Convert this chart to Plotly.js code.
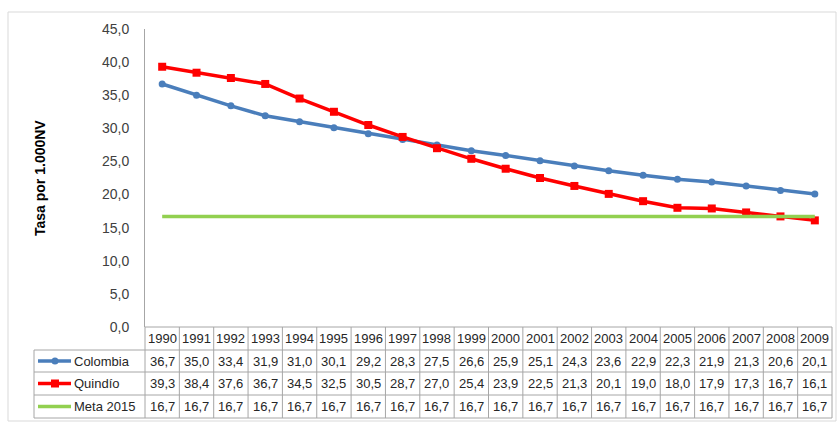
<!DOCTYPE html>
<html>
<head>
<meta charset="utf-8">
<script src="https://cdn.plot.ly/plotly-3.0.1.min.js"></script>
<style>html,body{margin:0;padding:0;background:#fff;}#chart{width:837px;height:423px;}</style>
</head>
<body>
<div id="chart"></div>
<script>
const years = [1990,1991,1992,1993,1994,1995,1996,1997,1998,1999,2000,2001,2002,2003,2004,2005,2006,2007,2008,2009];
const colombia = [36.7,35.0,33.4,31.9,31.0,30.1,29.2,28.3,27.5,26.6,25.9,25.1,24.3,23.6,22.9,22.3,21.9,21.3,20.6,20.1];
const quindio = [39.3,38.4,37.6,36.7,34.5,32.5,30.5,28.7,27.0,25.4,23.9,22.5,21.3,20.1,19.0,18.0,17.9,17.3,16.7,16.1];
const meta2015 = [16.7,16.7,16.7,16.7,16.7,16.7,16.7,16.7,16.7,16.7,16.7,16.7,16.7,16.7,16.7,16.7,16.7,16.7,16.7,16.7];
const seriesNames = ['Colombia','Quindío','Meta 2015'];
const yTitle = 'Tasa por 1.000NV';

const W = 837, H = 423;
const M = {l:145, r:5, t:29, b:96};
const PW = W - M.l - M.r, PH = H - M.t - M.b;
const px = x => (x - M.l) / PW;          // pixel x -> paper x
const py = y => (H - M.b - y) / PH;      // pixel y -> paper y

const blue = '#4a7ebb', red = '#ff0000', green = '#92d050';
const gridC = '#a6a6a6', textC = '#262626';
const FONT = 'Liberation Sans, Arial, sans-serif';

const traces = [
  {x: years, y: colombia, name: seriesNames[0], type: 'scatter', mode: 'lines+markers',
   line: {color: blue, width: 3.5}, marker: {symbol: 'circle', size: 7, color: blue}},
  {x: years, y: quindio, name: seriesNames[1], type: 'scatter', mode: 'lines+markers',
   line: {color: red, width: 3.5}, marker: {symbol: 'square', size: 8, color: red}},
  {x: years, y: meta2015, name: seriesNames[2], type: 'scatter', mode: 'lines',
   line: {color: green, width: 3.5}}
];

// table rows (pixel y of borders)
const rowY = [327, 350, 372, 395, 418];
const legendLeft = 34;
const fmt = v => v.toFixed(1).replace('.', ',');

const shapes = [];
const annotations = [];
// outer chart border
shapes.push({type:'rect', xref:'paper', yref:'paper', x0:px(8), x1:px(836), y0:py(12), y1:py(421),
  line:{color:'#d9d9d9', width:1}, fillcolor:'rgba(0,0,0,0)', layer:'below'});
// horizontal table lines
shapes.push({type:'line', xref:'paper', yref:'paper', x0:0, x1:1, y0:py(rowY[0]), y1:py(rowY[0]), line:{color:gridC, width:1}});
for (let r = 1; r < rowY.length; r++) {
  shapes.push({type:'line', xref:'paper', yref:'paper', x0:px(legendLeft), x1:1, y0:py(rowY[r]), y1:py(rowY[r]), line:{color:gridC, width:1}});
}
// vertical table lines
for (let i = 0; i <= years.length; i++) {
  shapes.push({type:'line', xref:'paper', yref:'paper', x0:i/years.length, x1:i/years.length,
    y0:py(rowY[0]), y1:py(rowY[4]), line:{color:gridC, width:1}});
}
shapes.push({type:'line', xref:'paper', yref:'paper', x0:px(legendLeft), x1:px(legendLeft),
  y0:py(rowY[1]), y1:py(rowY[4]), line:{color:gridC, width:1}});

// header years + values
const rowsData = [colombia, quindio, meta2015];
const cellFont = {family: FONT, size: 13, color: textC};
years.forEach((yr, i) => {
  annotations.push({xref:'x', yref:'paper', x:yr, y:py((rowY[0]+rowY[1])/2), text:String(yr),
    showarrow:false, xanchor:'center', yanchor:'middle', font:cellFont});
  rowsData.forEach((arr, r) => {
    annotations.push({xref:'x', yref:'paper', x:yr, y:py((rowY[r+1]+rowY[r+2])/2), text:fmt(arr[i]),
      showarrow:false, xanchor:'center', yanchor:'middle', font:cellFont});
  });
});
// legend column
const legColors = [blue, red, green];
seriesNames.forEach((nm, r) => {
  const yc = py((rowY[r+1]+rowY[r+2])/2);
  shapes.push({type:'line', xref:'paper', yref:'paper', x0:px(38), x1:px(71), y0:yc, y1:yc,
    line:{color:legColors[r], width:3.5}});
  if (r === 0) {
    shapes.push({type:'circle', xref:'paper', yref:'paper', x0:px(51.5), x1:px(58.5),
      y0:yc - 3.5/PH, y1:yc + 3.5/PH, line:{color:blue, width:0}, fillcolor:blue});
  } else if (r === 1) {
    shapes.push({type:'rect', xref:'paper', yref:'paper', x0:px(51), x1:px(59),
      y0:yc - 4/PH, y1:yc + 4/PH, line:{color:red, width:0}, fillcolor:red});
  }
  annotations.push({xref:'paper', yref:'paper', x:px(72), y:yc, text:nm, showarrow:false,
    xanchor:'left', yanchor:'middle', font:cellFont});
});
// y axis title
annotations.push({xref:'paper', yref:'paper', x:px(40), y:0.5, text:'<b>'+yTitle+'</b>', textangle:-90,
  showarrow:false, xanchor:'center', yanchor:'middle', font:{family:FONT, size:14, color:'#000'}});

const layout = {
  width: W, height: H,
  margin: M,
  paper_bgcolor: '#fff', plot_bgcolor: '#fff',
  separators: ',.',
  showlegend: false,
  font: {family: FONT, color: textC},
  xaxis: {range:[years[0]-0.5, years[years.length-1]+0.5], showticklabels:false, showgrid:false,
    zeroline:false, showline:false, ticks:'', fixedrange:true},
  yaxis: {range:[0,45], dtick:5, tick0:0, tickformat:'.1f', showgrid:false, zeroline:false,
    showline:true, linecolor:gridC, linewidth:1, ticks:'', ticklabelstandoff:12,
    tickfont:{family:FONT, size:14, color:'#404040'}, fixedrange:true},
  shapes: shapes,
  annotations: annotations
};

Plotly.newPlot('chart', traces, layout, {staticPlot:true, displayModeBar:false});
</script>
</body>
</html>
